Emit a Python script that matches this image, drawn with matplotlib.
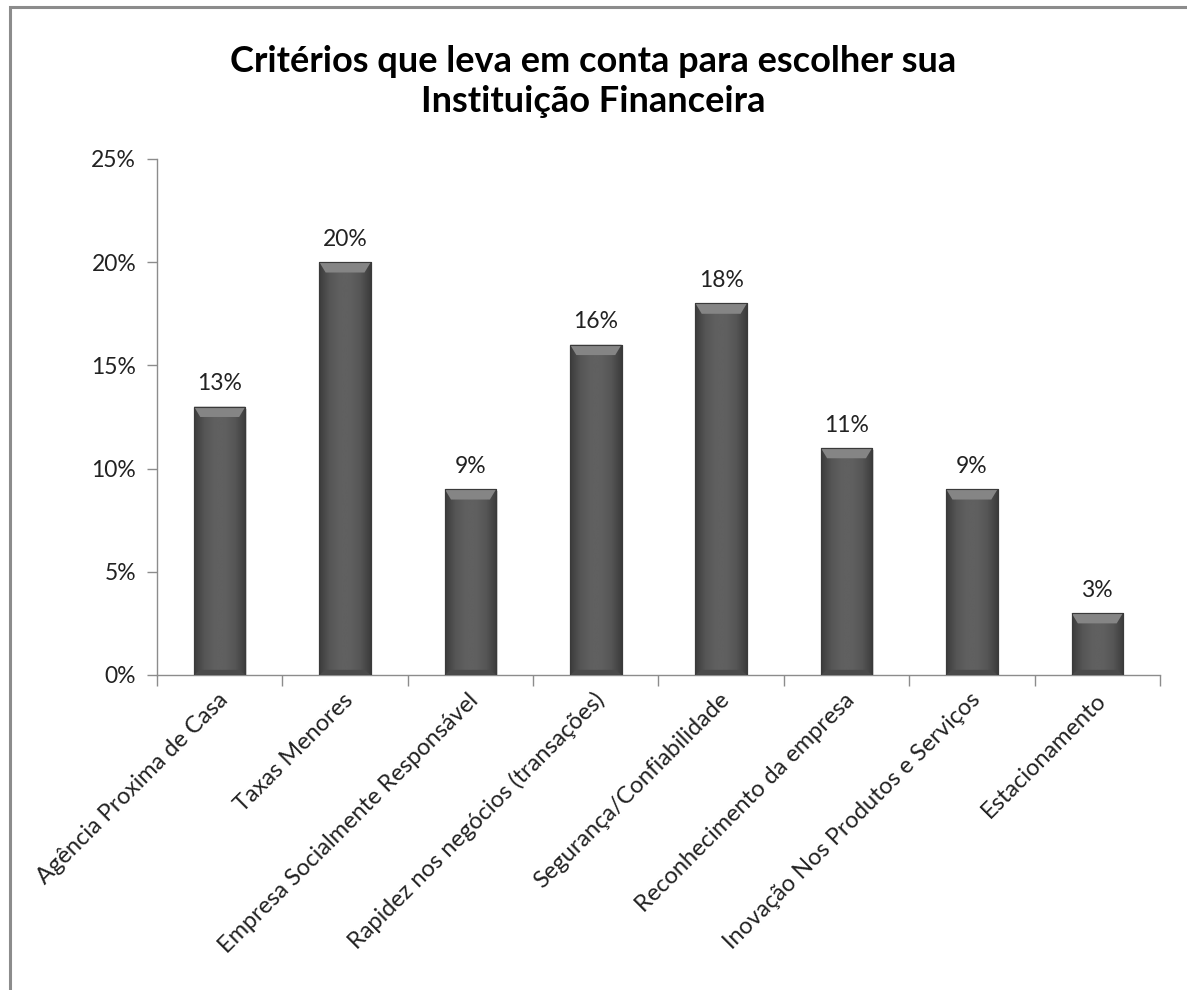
import matplotlib.pyplot as plt
import numpy as np
from matplotlib.colors import LinearSegmentedColormap
from matplotlib.patches import Rectangle, Polygon
from matplotlib.ticker import FuncFormatter, MultipleLocator

categories = [
    "Agência Proxima de Casa",
    "Taxas Menores",
    "Empresa Socialmente Responsável",
    "Rapidez nos negócios (transações)",
    "Segurança/Confiabilidade",
    "Reconhecimento da empresa",
    "Inovação Nos Produtos e Serviços",
    "Estacionamento",
]
values = [13, 20, 9, 16, 18, 11, 9, 3]

plt.rcParams['font.family'] = ['Lato', 'DejaVu Sans']

fig = plt.figure(figsize=(11.87, 9.9), dpi=100)
ax = fig.add_axes([0.1323, 0.3182, 0.8449, 0.5212])

# outer chart frame
fig.patches.append(Rectangle((10 / 1187, -0.05), 1.2, 1 - 7 / 990 + 0.05,
                             transform=fig.transFigure, fill=False,
                             edgecolor='#8c8c8c', linewidth=2.2, zorder=0))

x = np.arange(len(categories))
width = 0.41
bars = ax.bar(x, values, width=width, color='#5a5a5a', edgecolor='#3a3a3a',
              linewidth=0.8, zorder=3)

# bevel shading on each bar
bar_cmap = LinearSegmentedColormap.from_list(
    'bevel', ['#3c3c3c', '#565656', '#606060', '#606060', '#565656', '#3c3c3c'])
grad = np.linspace(0, 1, 64).reshape(1, -1)
for b in bars:
    x0, w, h = b.get_x(), b.get_width(), b.get_height()
    im = ax.imshow(grad, extent=(x0, x0 + w, 0, h), aspect='auto',
                   cmap=bar_cmap, zorder=3.5, interpolation='bicubic')
    im.set_clip_path(b)
    bev = 0.5
    ax.add_patch(Polygon([(x0, h), (x0 + w, h), (x0 + w - 0.05, h - bev),
                          (x0 + 0.05, h - bev)], closed=True,
                         facecolor='#858585', edgecolor='none', zorder=4))
    ax.add_patch(Polygon([(x0, 0), (x0 + w, 0), (x0 + w - 0.05, 0.25),
                          (x0 + 0.05, 0.25)], closed=True,
                         facecolor='#4a4a4a', edgecolor='none', zorder=4))
    ax.add_patch(Rectangle((x0, 0), w, h, fill=False, edgecolor='#3a3a3a',
                           linewidth=0.8, zorder=4.5))
    # soft shadow on the right
    ax.add_patch(Rectangle((x0 + w, 0), 0.012, h - 0.1, facecolor='#d6d6d6',
                           edgecolor='none', zorder=2))

for xi, v in zip(x, values):
    ax.text(xi, v + 0.6, f"{v}%", ha='center', va='bottom', fontsize=16.5,
            color='#222222')

ax.set_xlim(-0.5, len(categories) - 0.5)
ax.set_ylim(0, 25)
ax.yaxis.set_major_locator(MultipleLocator(5))
ax.yaxis.set_major_formatter(FuncFormatter(lambda v, p: f"{v:.0f}%"))

ax.set_xticks(np.arange(len(categories) + 1) - 0.5)
ax.set_xticklabels([])
ax.tick_params(axis='x', length=8, color='#8c8c8c', width=1)
ax.tick_params(axis='y', length=7, color='#8c8c8c', width=1, labelsize=16.5,
               labelcolor='#222222', pad=8)

for xi, lab in zip(x, categories):
    ax.text(xi + 0.04, -1.05, lab, rotation=45, rotation_mode='anchor',
            ha='right', va='center', fontsize=17, color='#222222',
            transform=ax.transData)

for s in ['top', 'right']:
    ax.spines[s].set_visible(False)
for s in ['left', 'bottom']:
    ax.spines[s].set_color('#8c8c8c')
    ax.spines[s].set_linewidth(1)

fig.text(0.5, 0.918, "Critérios que leva em conta para escolher sua\nInstituição Financeira",
         ha='center', va='center', fontsize=26, fontweight='bold',
         linespacing=1.25, color='black')

fig.savefig('out.png', dpi=100)
